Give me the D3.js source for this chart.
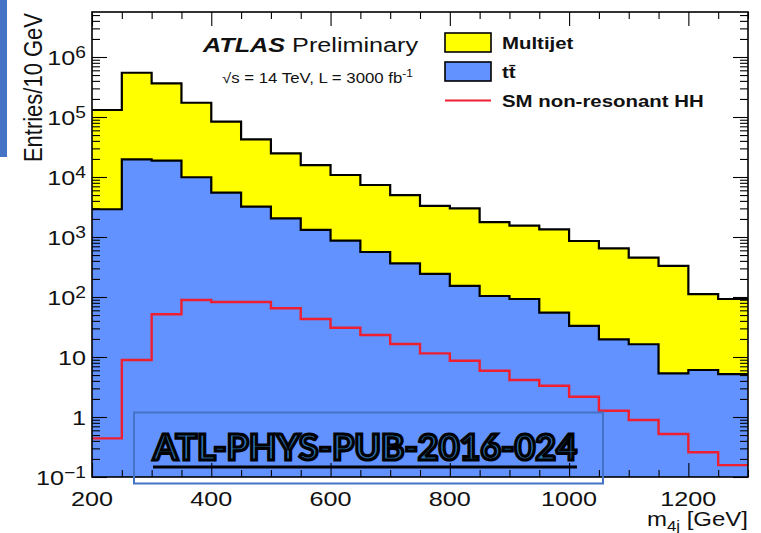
<!DOCTYPE html>
<html>
<head>
<meta charset="utf-8">
<script src="https://cdn.jsdelivr.net/npm/d3@7"></script>
<style>
  html, body { margin: 0; padding: 0; background: #fff; }
  svg { display: block; font-family: "Liberation Sans", Arial, sans-serif; }
</style>
</head>
<body>
<svg id="chart" width="761" height="533"></svg>
<script>
// Lower edges of the m_4j bins (GeV); every bin is 50 GeV wide
const massLow = [200, 250, 300, 350, 400, 450, 500, 550, 600, 650, 700,
                 750, 800, 850, 900, 950, 1000, 1050, 1100, 1150, 1200, 1250];
const binWidth = 50;

// Entries per bin for each background (stacked: ttbar below, multijet on top)
const ttbar = [2900, 19700, 18700, 9900, 5470, 3200, 2050, 1310, 868, 562, 364,
               242, 153, 104, 92.7, 54.7, 32.9, 19.7, 16.3, 5.35, 6.07, 5.2];
const multijet = [128000, 527000, 345000, 163000, 78000, 39300, 22700, 14500, 9930, 6800, 4640,
                  3050, 2850, 1660, 1450, 1290, 825, 628, 436, 324, 106, 87.5];
// SM non-resonant HH signal
const hhSignal = [0.44, 8.9, 51.5, 89, 82.5, 82.5, 64.9, 43, 30.8, 23.3, 16.5,
                  11.5, 8.67, 5.9, 4.14, 3.32, 2.18, 1.27, 0.89, 0.52, 0.258, 0.158];

// Axis ticks
const xMajorTicks = [200, 400, 600, 800, 1000, 1200];
const yDecades = [-1, 0, 1, 2, 3, 4, 5, 6];

const legendItems = [
  { label: "Multijet", kind: "box", fill: "#ffff00" },
  { label: "tt\u0304", kind: "box", fill: "#6292ff" },
  { label: "SM non-resonant HH", kind: "line", stroke: "#ee1f30" }
];

const COLORS = { multijet: "#ffff00", ttbar: "#6292ff", hh: "#ee1f30" };
const SX = 1.2; // horizontal stretch applied to text

const svg = d3.select("#chart");
const plot = { left: 92, right: 748, top: 12, bottom: 477 };

const x = d3.scaleLinear().domain([200, 1300]).range([plot.left, plot.right]);
const y = d3.scaleLog().domain([0.1, Math.pow(10, 6.75)]).range([plot.bottom, plot.top]);

svg.append("defs").append("clipPath").attr("id", "plotClip")
  .append("rect")
  .attr("x", plot.left).attr("y", plot.top)
  .attr("width", plot.right - plot.left).attr("height", plot.bottom - plot.top);

const g = svg.append("g").attr("clip-path", "url(#plotClip)");

// Stack the two backgrounds
const rows = massLow.map((m, i) => ({ m, ttbar: ttbar[i], multijet: multijet[i] }));
const series = d3.stack().keys(["ttbar", "multijet"])(rows);

// Turn per-bin values into histogram step points
function stepPoints(s) {
  const pts = [];
  s.forEach((d, i) => {
    const lo = d[0] <= 0 ? 0.1 : d[0];
    pts.push({ m: massLow[i], lo, hi: d[1] });
    pts.push({ m: massLow[i] + binWidth, lo, hi: d[1] });
  });
  return pts;
}

const area = d3.area().x(d => x(d.m)).y0(d => y(d.lo)).y1(d => y(d.hi));
const topLine = d3.line().x(d => x(d.m)).y(d => y(d.hi));

const bgFill = [COLORS.ttbar, COLORS.multijet];
series.forEach((s, k) => {
  g.append("path").datum(stepPoints(s)).attr("d", area).attr("fill", bgFill[k]);
});
series.forEach(s => {
  g.append("path").datum(stepPoints(s)).attr("d", topLine)
    .attr("fill", "none").attr("stroke", "#000").attr("stroke-width", 2.2)
    .attr("stroke-linejoin", "miter");
});

// Signal histogram line
const hhPts = [];
hhSignal.forEach((v, i) => {
  hhPts.push({ m: massLow[i], hi: v });
  hhPts.push({ m: massLow[i] + binWidth, hi: v });
});
g.append("path").datum(hhPts).attr("d", topLine)
  .attr("fill", "none").attr("stroke", COLORS.hh).attr("stroke-width", 2.4);

// Ticks on all four sides, pointing inwards
const yMinor = [];
yDecades.forEach(p => {
  for (let k = 2; k <= 9; k++) {
    const v = k * Math.pow(10, p);
    if (v < y.domain()[1]) yMinor.push(v);
  }
});
const yMajor = yDecades.map(p => Math.pow(10, p));
const xMinor = d3.range(200, 1301, 50).filter(v => !xMajorTicks.includes(v));

function tickAxis(axisFn, scale, values, size, transform) {
  const a = axisFn(scale).tickValues(values).tickSize(size).tickFormat("");
  const ax = svg.append("g").attr("transform", transform).call(a);
  ax.select(".domain").remove();
  ax.selectAll("line").attr("stroke", "#000").attr("stroke-width", 1.1);
}
tickAxis(d3.axisLeft, y, yMajor, -15, `translate(${plot.left},0)`);
tickAxis(d3.axisLeft, y, yMinor, -8, `translate(${plot.left},0)`);
tickAxis(d3.axisRight, y, yMajor, -15, `translate(${plot.right},0)`);
tickAxis(d3.axisRight, y, yMinor, -8, `translate(${plot.right},0)`);
tickAxis(d3.axisBottom, x, xMajorTicks, -14, `translate(0,${plot.bottom})`);
tickAxis(d3.axisBottom, x, xMinor, -7, `translate(0,${plot.bottom})`);
tickAxis(d3.axisTop, x, xMajorTicks, -14, `translate(0,${plot.top})`);
tickAxis(d3.axisTop, x, xMinor, -7, `translate(0,${plot.top})`);

// Frame
svg.append("rect")
  .attr("x", plot.left).attr("y", plot.top)
  .attr("width", plot.right - plot.left).attr("height", plot.bottom - plot.top)
  .attr("fill", "none").attr("stroke", "#000").attr("stroke-width", 1.6);

// Stretched text helper
function stext(parent, px, py, anchor, size) {
  return parent.append("text")
    .attr("transform", `translate(${px},${py}) scale(${SX},1)`)
    .attr("text-anchor", anchor)
    .attr("font-size", size)
    .attr("fill", "#111");
}

// Y tick labels
yDecades.forEach(p => {
  const v = Math.pow(10, p);
  const t = stext(svg, 86, y(v) + 7.5, "end", 21);
  if (p === 0) t.text("1");
  else if (p === 1) t.text("10");
  else {
    t.append("tspan").text("10");
    t.append("tspan").attr("font-size", 16).attr("dy", -7).text(p < 0 ? "\u2212" + (-p) : p);
  }
});

// X tick labels
xMajorTicks.forEach(v => {
  stext(svg, x(v), 506, "middle", 21).text(v);
});

// Axis titles
const xt = stext(svg, 748, 526, "end", 20);
xt.append("tspan").text("m");
xt.append("tspan").attr("font-size", 14).attr("dy", 5).text("4j");
xt.append("tspan").attr("dy", -5).text(" [GeV]");

svg.append("text")
  .attr("transform", `translate(42,13) scale(${SX},1) rotate(-90)`)
  .attr("text-anchor", "end").attr("font-size", 22).attr("fill", "#111")
  .text("Entries/10 GeV");

// Experiment label
const atl = stext(svg, 203, 52, "start", 21);
atl.append("tspan").attr("font-weight", "bold").attr("font-style", "italic").text("ATLAS");
atl.append("tspan").text(" Preliminary");
const lumi = stext(svg, 222, 83, "start", 14);
lumi.append("tspan").text("\u221As = 14 TeV, L = 3000 fb");
lumi.append("tspan").attr("font-size", 10).attr("dy", -6).text("-1");

// Legend
const legY = [33, 62, 91];
legendItems.forEach((item, i) => {
  if (item.kind === "box") {
    svg.append("rect").attr("x", 445).attr("y", legY[i])
      .attr("width", 46).attr("height", 19)
      .attr("fill", item.fill).attr("stroke", "#000").attr("stroke-width", 1.6);
  } else {
    svg.append("line").attr("x1", 445).attr("x2", 491)
      .attr("y1", legY[i] + 9.5).attr("y2", legY[i] + 9.5)
      .attr("stroke", item.stroke).attr("stroke-width", 2);
  }
  stext(svg, 502, legY[i] + 16, "start", 17)
    .attr("font-weight", "bold").text(item.label);
});

// Document reference box
svg.append("rect").attr("x", 134).attr("y", 412.5).attr("width", 469).attr("height", 71)
  .attr("fill", "none").attr("stroke", "#4472c4").attr("stroke-width", 2);
svg.append("text")
  .attr("x", 153).attr("y", 460)
  .attr("font-family", "Lato, 'Open Sans', sans-serif").attr("font-weight", 700)
  .attr("font-size", 37)
  .attr("textLength", 424).attr("lengthAdjust", "spacingAndGlyphs")
  .attr("fill", "#2e75b6").attr("stroke", "#000").attr("stroke-width", 3.2)
  .attr("paint-order", "normal")
  .text("ATL-PHYS-PUB-2016-024");
svg.append("line").attr("x1", 153).attr("x2", 577).attr("y1", 467).attr("y2", 467)
  .attr("stroke", "#000").attr("stroke-width", 3);

// Slide accent bar
svg.append("rect").attr("x", 0).attr("y", 0).attr("width", 7).attr("height", 157)
  .attr("fill", "#4472c4");
</script>
</body>
</html>
